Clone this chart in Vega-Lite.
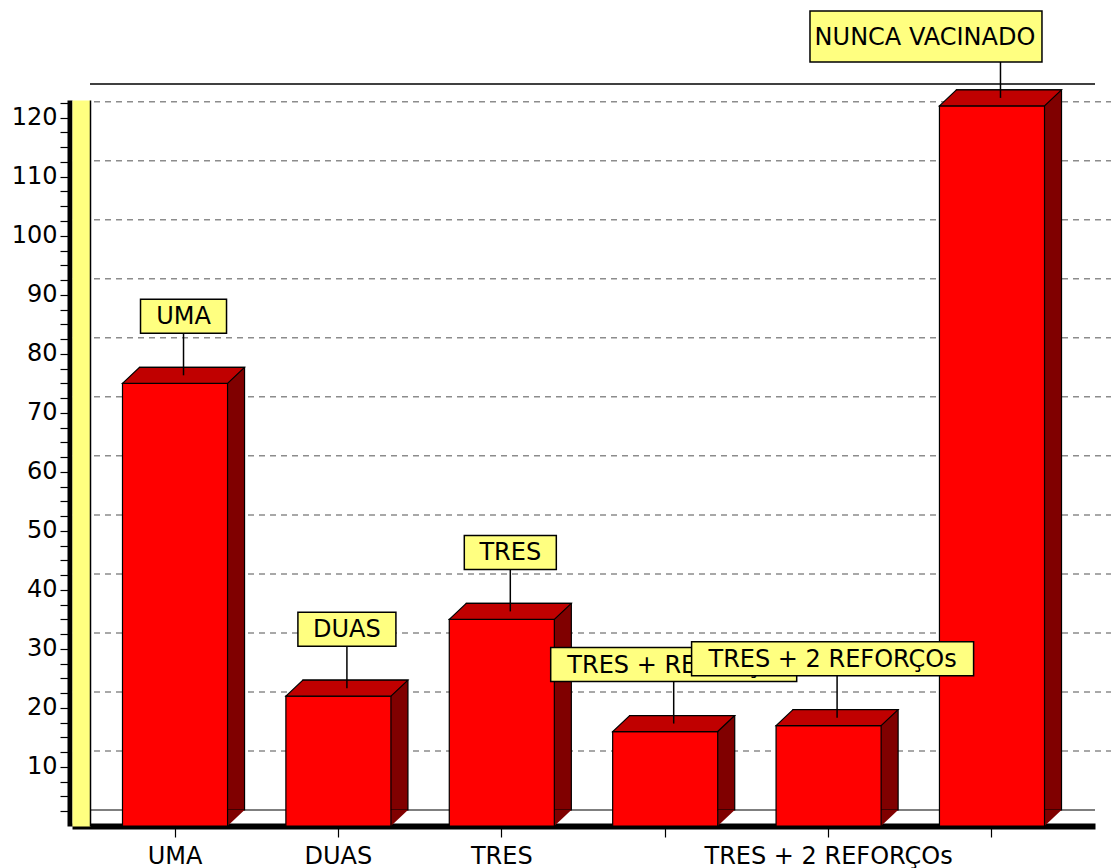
{
  "$schema": "https://vega.github.io/schema/vega-lite/v6.json",
  "autosize": "none",
  "width": 1023,
  "height": 726,
  "padding": {"left": 72, "top": 100, "right": 16, "bottom": 42},
  "background": "white",
  "config": {
    "view": {"stroke": null},
    "font": "DejaVu Sans"
  },
  "datasets": {
    "bars": [
      {"cat": "UMA", "value": 75},
      {"cat": "DUAS", "value": 22},
      {"cat": "TRES", "value": 35},
      {"cat": "TRES + REFORÇO", "value": 16},
      {"cat": "TRES + 2 REFORÇOs", "value": 17},
      {"cat": "NUNCA VACINADO", "value": 122}
    ],
    "grid": [
      {"v": 10}, {"v": 20}, {"v": 30}, {"v": 40}, {"v": 50}, {"v": 60},
      {"v": 70}, {"v": 80}, {"v": 90}, {"v": 100}, {"v": 110}, {"v": 120}
    ]
  },
  "resolve": {"axis": {"y": "independent", "x": "independent"}},
  "layer": [
    {
      "data": {"values": [{}]},
      "mark": {"type": "rule", "color": "black", "strokeWidth": 1.5, "strokeDash": [1005, 300], "yOffset": -16},
      "encoding": {
        "y": {"datum": 123, "type": "quantitative", "scale": {"domain": [0, 123], "nice": false},
          "axis": {"orient": "left", "offset": -9, "domainColor": "#FFFF80", "domainWidth": 18, "ticks": false, "labels": false, "grid": false, "title": null, "zindex": 1}}
      }
    },
    {
      "data": {"values": [{}]},
      "mark": {"type": "rule", "color": "black", "strokeWidth": 1.2, "strokeDash": [1005, 300], "yOffset": -16},
      "encoding": {
        "y": {"datum": 0, "type": "quantitative",
          "axis": {"orient": "left", "offset": -18, "domainColor": "black", "domainWidth": 1.5, "ticks": false, "labels": false, "grid": false, "title": null, "zindex": 1}}
      }
    },
    {
      "data": {"name": "grid"},
      "mark": {"type": "rule", "color": "#8c8c8c", "strokeWidth": 1.5, "strokeDash": [6, 5], "xOffset": 17, "x2Offset": 17, "yOffset": -16},
      "encoding": {
        "y": {"field": "v", "type": "quantitative", "axis": null}
      }
    },
    {
      "data": {"name": "bars"},
      "mark": {"type": "bar", "fill": "#800000", "stroke": "black", "strokeWidth": 1.2, "xOffset": 17, "yOffset": -16, "y2Offset": -16},
      "encoding": {
        "x": {"field": "cat", "type": "nominal", "sort": null,
          "scale": {"paddingInner": 0.357, "paddingOuter": 0.309},
          "axis": {"title": null, "domainColor": "black", "domainWidth": 6, "tickColor": "black", "tickSize": 11, "tickWidth": 1.2,
            "labelAngle": 0, "labelFont": "DejaVu Sans", "labelFontSize": 24, "labelColor": "black", "labelPadding": 7, "labelLimit": 0,
            "labelExpr": "datum.label == 'TRES + REFORÇO' || datum.label == 'NUNCA VACINADO' ? '' : datum.label"}},
        "y": {"field": "value", "type": "quantitative",
          "axis": {"orient": "left", "offset": 2.5, "title": null, "grid": false, "domainColor": "black", "domainWidth": 5,
            "values": [2.5, 5, 7.5, 10, 12.5, 15, 17.5, 20, 22.5, 25, 27.5, 30, 32.5, 35, 37.5, 40, 42.5, 45, 47.5, 50, 52.5, 55, 57.5, 60, 62.5, 65, 67.5, 70, 72.5, 75, 77.5, 80, 82.5, 85, 87.5, 90, 92.5, 95, 97.5, 100, 102.5, 105, 107.5, 110, 112.5, 115, 117.5, 120, 122.5],
            "labelExpr": "datum.value % 10 === 0 ? datum.label : ''",
            "tickColor": "black", "tickSize": 9.5, "tickWidth": 1.2, "labelPadding": 3,
            "labelFont": "DejaVu Sans", "labelFontSize": 24, "labelColor": "black", "labelOverlap": false}},
        "y2": {"datum": 0}
      }
    },
    {
      "data": {"name": "bars"},
      "mark": {"type": "point", "filled": true, "opacity": 1, "fill": "#800000", "strokeWidth": 0, "size": 90000,
        "shape": "M0.35,0L0.35,-0.1067L0.4633,-0.1067Z"},
      "encoding": {
        "x": {"field": "cat", "type": "nominal", "sort": null, "axis": null},
        "y": {"datum": 0, "type": "quantitative", "axis": null}
      }
    },
    {
      "data": {"name": "bars"},
      "mark": {"type": "bar", "fill": "#FF0000", "stroke": "black", "strokeWidth": 1.2},
      "encoding": {
        "x": {"field": "cat", "type": "nominal", "sort": null, "axis": null},
        "y": {"field": "value", "type": "quantitative", "axis": null},
        "y2": {"datum": 0}
      }
    },
    {
      "data": {"name": "bars"},
      "mark": {"type": "point", "filled": true, "opacity": 1, "fill": "#C00000", "stroke": "black", "strokeWidth": 1.2, "size": 90000,
        "shape": "M-0.35,0L0.35,0L0.4633,-0.1067L-0.2367,-0.1067Z"},
      "encoding": {
        "x": {"field": "cat", "type": "nominal", "sort": null, "axis": null},
        "y": {"field": "value", "type": "quantitative", "axis": null}
      }
    },
    {
      "data": {"name": "bars"},
      "mark": {"type": "rule", "color": "black", "strokeWidth": 1.5, "xOffset": 8.5, "yOffset": -8, "y2Offset": -50},
      "encoding": {
        "x": {"field": "cat", "type": "nominal", "sort": null, "axis": null},
        "y": {"field": "value", "type": "quantitative", "axis": null},
        "y2": {"field": "value"}
      }
    },
    {
      "data": {"name": "bars"},
      "transform": [{"filter": "datum.cat != 'TRES + 2 REFORÇOs' && datum.cat != 'NUNCA VACINADO'"}],
      "layer": [
        {
          "mark": {"type": "point", "filled": true, "opacity": 1, "fill": "#FFFF80", "stroke": "black", "strokeWidth": 1.5, "size": 90000, "xOffset": 8.5, "yOffset": -67},
          "encoding": {
            "x": {"field": "cat", "type": "nominal", "sort": null, "axis": null},
            "y": {"field": "value", "type": "quantitative", "axis": null},
            "shape": {"field": "cat", "type": "nominal", "legend": null,
              "scale": {"domain": ["UMA", "DUAS", "TRES", "TRES + REFORÇO"],
                "range": ["M-0.2867,-0.1133H0.2867V0.1133H-0.2867Z", "M-0.3267,-0.1133H0.3267V0.1133H-0.3267Z", "M-0.3067,-0.1133H0.3067V0.1133H-0.3067Z", "M-0.82,-0.1133H0.82V0.1133H-0.82Z"]}}
          }
        },
        {
          "mark": {"type": "text", "font": "DejaVu Sans", "fontSize": 24, "color": "black", "baseline": "middle", "align": "center", "xOffset": 8.5, "yOffset": -66},
          "encoding": {
            "x": {"field": "cat", "type": "nominal", "sort": null, "axis": null},
            "y": {"field": "value", "type": "quantitative", "axis": null},
            "text": {"field": "cat"}
          }
        }
      ]
    },
    {
      "data": {"name": "bars"},
      "transform": [{"filter": "datum.cat == 'TRES + 2 REFORÇOs'"}],
      "layer": [
        {
          "mark": {"type": "point", "filled": true, "opacity": 1, "fill": "#FFFF80", "stroke": "black", "strokeWidth": 1.5, "size": 90000, "xOffset": 4, "yOffset": -67,
            "shape": "M-0.94,-0.1133H0.94V0.1133H-0.94Z"},
          "encoding": {
            "x": {"field": "cat", "type": "nominal", "sort": null, "axis": null},
            "y": {"field": "value", "type": "quantitative", "axis": null}
          }
        },
        {
          "mark": {"type": "text", "font": "DejaVu Sans", "fontSize": 24, "color": "black", "baseline": "middle", "align": "center", "xOffset": 4, "yOffset": -66},
          "encoding": {
            "x": {"field": "cat", "type": "nominal", "sort": null, "axis": null},
            "y": {"field": "value", "type": "quantitative", "axis": null},
            "text": {"field": "cat"}
          }
        }
      ]
    },
    {
      "data": {"name": "bars"},
      "transform": [{"filter": "datum.cat == 'NUNCA VACINADO'"}],
      "layer": [
        {
          "mark": {"type": "point", "filled": true, "opacity": 1, "fill": "#FFFF80", "stroke": "black", "strokeWidth": 1.5, "size": 90000, "xOffset": -66, "yOffset": -69.5,
            "shape": "M-0.7733,-0.17H0.7733V0.17H-0.7733Z"},
          "encoding": {
            "x": {"field": "cat", "type": "nominal", "sort": null, "axis": null},
            "y": {"field": "value", "type": "quantitative", "axis": null}
          }
        },
        {
          "mark": {"type": "text", "font": "DejaVu Sans", "fontSize": 24, "color": "black", "baseline": "middle", "align": "center", "xOffset": -67, "yOffset": -68},
          "encoding": {
            "x": {"field": "cat", "type": "nominal", "sort": null, "axis": null},
            "y": {"field": "value", "type": "quantitative", "axis": null},
            "text": {"field": "cat"}
          }
        }
      ]
    }
  ]
}
